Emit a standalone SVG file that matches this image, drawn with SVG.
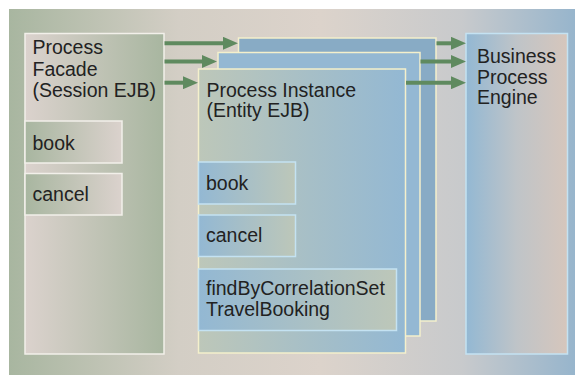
<svg xmlns="http://www.w3.org/2000/svg" width="575" height="375" viewBox="0 0 575 375">
  <defs>
    <linearGradient id="gBg" x1="0" y1="0" x2="1" y2="0">
      <stop offset="0" stop-color="#a8b6a0"/>
      <stop offset="0.3" stop-color="#d3cec5"/>
      <stop offset="0.55" stop-color="#dcd3cb"/>
      <stop offset="0.8" stop-color="#c8cacc"/>
      <stop offset="1" stop-color="#97b5cc"/>
    </linearGradient>
    <linearGradient id="gFacade" x1="0" y1="0" x2="1" y2="0">
      <stop offset="0" stop-color="#dbd2cd"/>
      <stop offset="1" stop-color="#a8b6a0"/>
    </linearGradient>
    <linearGradient id="gFacadeOp" x1="0" y1="0" x2="1" y2="0">
      <stop offset="0" stop-color="#a8b6a0"/>
      <stop offset="1" stop-color="#dbd2cd"/>
    </linearGradient>
    <linearGradient id="gInst" x1="0" y1="0" x2="1" y2="0">
      <stop offset="0" stop-color="#bdc7b9"/>
      <stop offset="1" stop-color="#93b8d3"/>
    </linearGradient>
    <linearGradient id="gInstOp" x1="0" y1="0" x2="1" y2="0">
      <stop offset="0" stop-color="#93b8d3"/>
      <stop offset="1" stop-color="#bdc7b9"/>
    </linearGradient>
    <linearGradient id="gEngine" x1="0" y1="0" x2="1" y2="0">
      <stop offset="0" stop-color="#93b8d3"/>
      <stop offset="0.5" stop-color="#bfc4c8"/>
      <stop offset="1" stop-color="#d6c6bc"/>
    </linearGradient>
    <marker id="head" markerUnits="userSpaceOnUse" markerWidth="15" markerHeight="13" refX="5" refY="6.5" orient="auto">
      <path d="M0,0 L15,6.5 L0,13 z" fill="#5f8a5f"/>
    </marker>
  </defs>
  <style>
    text { font-family: "Liberation Sans", Arial, sans-serif; font-size: 19.5px; fill: #222; }
    .facade { fill: url(#gFacade); stroke: #f2f0ea; stroke-width: 1.5; }
    .facadeOp { fill: url(#gFacadeOp); stroke: #f2f0ea; stroke-width: 1.5; }
    .card { stroke: #f4f0cc; stroke-width: 1.5; }
    .instOp { fill: url(#gInstOp); stroke: #c4e2f2; stroke-width: 1.5; }
    .engine { fill: url(#gEngine); stroke: #c4e2f2; stroke-width: 1.5; }
    .conn { stroke: #5f8a5f; stroke-width: 4; fill: none; marker-end: url(#head); }
  </style>

  <!-- backdrop -->
  <rect x="9" y="9" width="566" height="366" fill="url(#gBg)"/>

  <!-- Process Facade (Session EJB) -->
  <g id="process-facade">
    <rect class="facade" x="25" y="33.5" width="139" height="320.5"/>
    <text x="32.5" y="54">Process</text>
    <text x="32.5" y="75.5">Facade</text>
    <text x="32.5" y="97">(Session EJB)</text>
    <rect class="facadeOp" x="25" y="121" width="97" height="42"/>
    <text x="32.5" y="149.5">book</text>
    <rect class="facadeOp" x="25" y="173.5" width="97" height="41.5"/>
    <text x="32.5" y="201">cancel</text>
  </g>

  <!-- stacked instance cards -->
  <g id="instance-back">
    <rect class="card" x="238.5" y="38" width="197.5" height="283" fill="#88abc5"/>
  </g>
  <g id="instance-middle">
    <rect class="card" x="218" y="52.5" width="202" height="283.5" fill="#94b8d3"/>
  </g>

  <!-- Process Instance (Entity EJB) -->
  <g id="process-instance">
    <rect class="card" x="198.5" y="69" width="207" height="284" fill="url(#gInst)"/>
    <text x="206.5" y="96.5">Process Instance</text>
    <text x="206.5" y="117">(Entity EJB)</text>
    <rect class="instOp" x="198.5" y="162" width="97" height="42"/>
    <text x="206" y="190">book</text>
    <rect class="instOp" x="198.5" y="215" width="97" height="41.5"/>
    <text x="206" y="241.5">cancel</text>
    <rect class="instOp" x="198.5" y="269" width="198" height="61.5"/>
    <text x="206" y="295">findByCorrelationSet</text>
    <text x="206" y="315.5">TravelBooking</text>
  </g>

  <!-- Business Process Engine -->
  <g id="bp-engine">
    <rect class="engine" x="466" y="33.5" width="101.5" height="320.5"/>
    <text x="477" y="62.5">Business</text>
    <text x="477" y="83.5">Process</text>
    <text x="477" y="104">Engine</text>
  </g>

  <!-- connectors -->
  <g id="connectors">
    <line class="conn" x1="164.5" y1="43.3" x2="228" y2="43.3"/>
    <line class="conn" x1="164.5" y1="61.5" x2="207" y2="61.5"/>
    <line class="conn" x1="164.5" y1="82.7" x2="188" y2="82.7"/>
    <line class="conn" x1="436.5" y1="43.3" x2="456" y2="43.3"/>
    <line class="conn" x1="420.5" y1="61.5" x2="456" y2="61.5"/>
    <line class="conn" x1="406" y1="82.7" x2="456" y2="82.7"/>
  </g>
</svg>
